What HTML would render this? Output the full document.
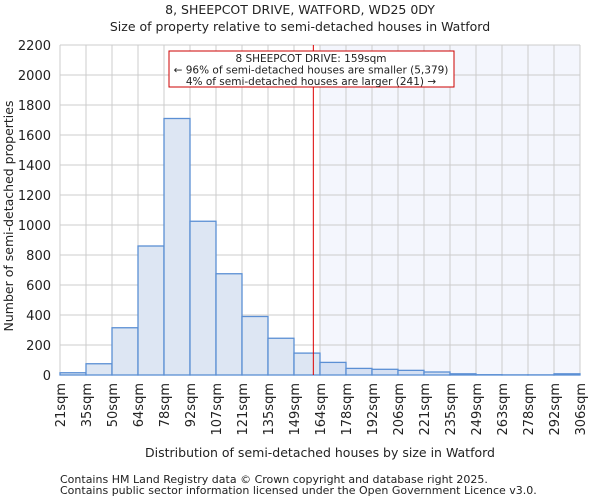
<!DOCTYPE html>
<html><head><meta charset="utf-8"><style>
body{margin:0;background:#fff;font-family:"DejaVu Sans","Liberation Sans",sans-serif}
svg text{font-family:"DejaVu Sans","Liberation Sans",sans-serif;fill:#222}
</style></head><body>
<svg id="chart" width="600" height="500" xmlns="http://www.w3.org/2000/svg">
<text x="300" y="14" text-anchor="middle" font-size="12.5">8, SHEEPCOT DRIVE, WATFORD, WD25 0DY</text>
<text x="300" y="31" text-anchor="middle" font-size="12.5">Size of property relative to semi-detached houses in Watford</text>
<g id="plot"></g>
<text x="320" y="457" text-anchor="middle" font-size="12.5">Distribution of semi-detached houses by size in Watford</text>
<text transform="translate(13,216) rotate(-90)" text-anchor="middle" font-size="12.5">Number of semi-detached properties</text>
<text x="60" y="483" font-size="11" fill="#444">Contains HM Land Registry data © Crown copyright and database right 2025.</text>
<text x="60" y="494" font-size="11" fill="#444">Contains public sector information licensed under the Open Government Licence v3.0.</text>
</svg>
<script>
const categories=["21sqm","35sqm","50sqm","64sqm","78sqm","92sqm","107sqm","121sqm","135sqm","149sqm","164sqm","178sqm","192sqm","206sqm","221sqm","235sqm","249sqm","263sqm","278sqm","292sqm","306sqm"];
const counts=[15,75,315,860,1710,1025,675,390,245,146,84,44,38,31,20,8,2,1,1,8];
const yTicks=[0,200,400,600,800,1000,1200,1400,1600,1800,2000,2200];
const markerValue=159;
const binEdges=[21,35,50,64,78,92,107,121,135,149,164,178,192,206,221,235,249,263,278,292,306];
const NS="http://www.w3.org/2000/svg";
const g=document.getElementById('plot');
const L=60,R=580,T=45,B=375,yMax=2200;
const bw=(R-L)/counts.length;
const y=v=>B-(v/yMax)*(B-T);
const xi=i=>L+i*bw;
function xv(v){for(let i=0;i<binEdges.length-1;i++){if(v<=binEdges[i+1]){return xi(i)+(v-binEdges[i])/(binEdges[i+1]-binEdges[i])*bw;}}return R;}
function mk(tag,attrs){const e=document.createElementNS(NS,tag);for(const k in attrs)e.setAttribute(k,attrs[k]);g.appendChild(e);return e;}
const bg=mk('rect',{x:L,y:T,width:R-L,height:B-T,fill:'#fff'});


let si=binEdges.findIndex(e=>e>=markerValue);
const sh=mk('rect',{x:xi(si),y:T,width:R-xi(si),height:B-T,fill:'#f4f6fd'});


for(let i=0;i<=counts.length;i++){const l=mk('line',{x1:xi(i),x2:xi(i),y1:T,y2:B,stroke:'#ccc','stroke-width':1});

}
yTicks.forEach(t=>{const l=mk('line',{x1:L,x2:R,y1:y(t),y2:y(t),stroke:'#ccc','stroke-width':1});


const tx=mk('text',{x:L-9,y:y(t)+5,'text-anchor':'end','font-size':13});tx.textContent=t;

});
counts.forEach((c,i)=>{const r=mk('rect',{x:xi(i),y:y(c),width:bw,height:B-y(c),fill:i>=si?'#d5e0f3':'#dde6f3',stroke:'#5b8fd4','stroke-width':1.3});

});
categories.forEach((c,i)=>{const tx=mk('text',{transform:`translate(${xi(i)+5},383) rotate(-90)`,'text-anchor':'end','font-size':13});tx.textContent=c;

});
const mx=xv(markerValue)+2;
const ml=mk('line',{x1:mx,x2:mx,y1:T,y2:B,stroke:'#dd0000','stroke-width':1});


const ab=mk('rect',{x:169,y:51,width:285,height:36,fill:'#fff',stroke:'#cc0000','stroke-width':1});


["8 SHEEPCOT DRIVE: 159sqm","← 96% of semi-detached houses are smaller (5,379)","4% of semi-detached houses are larger (241) →"].forEach((s,k)=>{const tx=mk('text',{x:311,y:62+k*11.5,'text-anchor':'middle','font-size':10.5});tx.textContent=s;

});
</script>
</body></html>
